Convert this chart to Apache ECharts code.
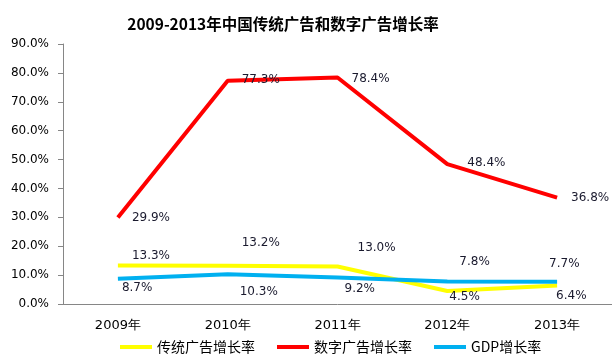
<!DOCTYPE html>
<html><head><meta charset="utf-8">
<script src="https://cdn.jsdelivr.net/npm/echarts@6/dist/echarts.min.js"></script>
<style>html,body{margin:0;padding:0;background:#fff}#c{width:612px;height:356px}</style>
</head><body><div id="c"></div>
<script>
var categories = ['2009年','2010年','2011年','2012年','2013年'];
var traditional = [13.3, 13.2, 13.0, 4.5, 6.4];
var digital = [29.9, 77.3, 78.4, 48.4, 36.8];
var gdp = [8.7, 10.3, 9.2, 7.8, 7.7];
var seriesNames = ['传统广告增长率','数字广告增长率','GDP增长率'];
var yTicks = [0,10,20,30,40,50,60,70,80,90];

var tradOffsets = [[14,-10],[14,-23],[20,-19],[2,6],[-1,10]];
var digOffsets = [[14,0],[14,-1],[14,1],[20,-1],[14,0]];
var gdpOffsets = [[4,9],[12,18],[7,11],[12,-20],[-8,-18]];

function withOffsets(vals, offs){
  return vals.map(function(v,i){return {value:v,label:{offset:offs[i]}};});
}
var fmt = function(p){return p.value.toFixed(1)+'%';};
var labelBase = {show:true, position:'right', distance:0, formatter:fmt, color:'#1a1a2e', fontSize:12, fontFamily:'DejaVu Sans', align:'left'};

var chart = echarts.init(document.getElementById('c'));
chart.setOption({
  animation:false,
  title:{text:'2009-2013年中国传统广告和数字广告增长率', left:278, top:11, textAlign:'center',
    textStyle:{fontSize:15.5, fontWeight:'bold', color:'#000', fontFamily:'Noto Sans CJK SC'}},
  grid:{left:63, right:0, top:44, bottom:52},
  legend:{data:seriesNames, left:115, top:335, icon:'rect', itemWidth:32, itemHeight:4, itemGap:22,
    textStyle:{fontSize:14, color:'#000', fontFamily:'Noto Sans CJK SC'}},
  xAxis:{type:'category', data:categories, boundaryGap:true,
    axisLine:{lineStyle:{color:'#868686'}}, axisTick:{length:5, lineStyle:{color:'#868686'}},
    axisLabel:{color:'#000', fontSize:13, margin:15, fontFamily:'DejaVu Sans'}},
  yAxis:{type:'value', min:yTicks[0], max:yTicks[yTicks.length-1], interval:10,
    splitLine:{show:false}, axisLine:{show:true, lineStyle:{color:'#868686'}},
    axisTick:{show:true, length:5, lineStyle:{color:'#868686'}},
    axisLabel:{color:'#000', fontSize:12, margin:14, fontFamily:'DejaVu Sans', formatter:function(v){return v.toFixed(1)+'%';}}},
  series:[
    {name:seriesNames[0], type:'line', data:withOffsets(traditional,tradOffsets), symbol:'circle', symbolSize:0, showSymbol:true, color:'#FFFF00',
      lineStyle:{width:4, color:'#FFFF00'}, label:labelBase},
    {name:seriesNames[1], type:'line', data:withOffsets(digital,digOffsets), symbol:'circle', symbolSize:0, showSymbol:true, color:'#FF0000',
      lineStyle:{width:4, color:'#FF0000'}, label:labelBase},
    {name:seriesNames[2], type:'line', data:withOffsets(gdp,gdpOffsets), symbol:'circle', symbolSize:0, showSymbol:true, color:'#00B0F0',
      lineStyle:{width:4, color:'#00B0F0'}, label:labelBase}
  ]
});
</script></body></html>
